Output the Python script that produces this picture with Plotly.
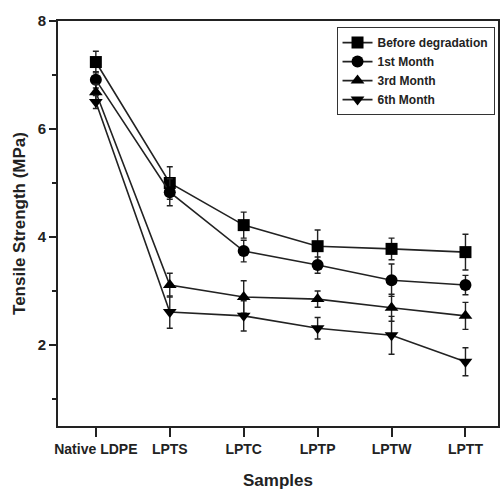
import plotly.graph_objects as go

samples = ["Native LDPE", "LPTS", "LPTC", "LPTP", "LPTW", "LPTT"]
series_names = ["Before degradation", "1st Month", "3rd Month", "6th Month"]
before = [7.24, 5.00, 4.22, 3.83, 3.78, 3.72]
before_err = [0.20, 0.30, 0.24, 0.30, 0.20, 0.33]
month1 = [6.91, 4.83, 3.74, 3.48, 3.20, 3.11]
month1_err = [0.15, 0.25, 0.20, 0.15, 0.30, 0.18]
month3 = [6.68, 3.11, 2.89, 2.85, 2.69, 2.54]
month3_err = [0.15, 0.22, 0.30, 0.15, 0.25, 0.25]
month6 = [6.50, 2.61, 2.54, 2.31, 2.18, 1.69]
month6_err = [0.12, 0.30, 0.28, 0.20, 0.35, 0.26]

values = [before, month1, month3, month6]
errors = [before_err, month1_err, month3_err, month6_err]
symbols = ["square", "circle", "triangle-up", "triangle-down"]

x_idx = list(range(len(samples)))

fig = go.Figure()
for name, v, e, s in zip(series_names, values, errors, symbols):
    fig.add_trace(go.Scatter(
        x=x_idx, y=v, name=name, mode="lines+markers",
        line=dict(color="#222222", width=1.6),
        marker=dict(symbol=s, size=12, color="#000000"),
        error_y=dict(type="data", array=e, visible=True, color="#222222",
                     thickness=1.4, width=3),
    ))

font_b = dict(family="Liberation Sans, Arial, sans-serif", color="#222222", weight="bold")

fig.update_layout(
    width=502, height=497,
    margin=dict(l=58, r=2, t=21, b=71),
    paper_bgcolor="white", plot_bgcolor="white",
    showlegend=True,
    legend=dict(
        x=0.633, y=0.985, xanchor="left", yanchor="top",
        bordercolor="#333333", borderwidth=1, bgcolor="white",
        font=dict(size=12, **font_b),
        itemwidth=30, tracegroupgap=0,
    ),
    xaxis=dict(
        range=[-0.512, 5.44],
        tickmode="array", tickvals=x_idx, ticktext=samples,
        ticks="outside", ticklen=9, tickwidth=1.5, tickcolor="#222222",
        showline=True, linecolor="#222222", linewidth=1.8, mirror=True,
        showgrid=False, zeroline=False,
        tickfont=dict(size=14, **font_b),
        title=dict(text="Samples", font=dict(size=17, **font_b), standoff=18),
    ),
    yaxis=dict(
        range=[0.5, 8],
        tickmode="array", tickvals=[2, 4, 6, 8],
        ticks="outside", ticklen=7, tickwidth=1.5, tickcolor="#222222",
        minor=dict(tickvals=[1, 3, 5, 7], ticks="outside", ticklen=4,
                   tickwidth=1.5, tickcolor="#222222"),
        showline=True, linecolor="#222222", linewidth=1.8, mirror=True,
        showgrid=False, zeroline=False,
        tickfont=dict(size=15, **font_b),
        title=dict(text="Tensile Strength (MPa)", font=dict(size=17, **font_b), standoff=8),
    ),
)

fig.write_html("out.html")
